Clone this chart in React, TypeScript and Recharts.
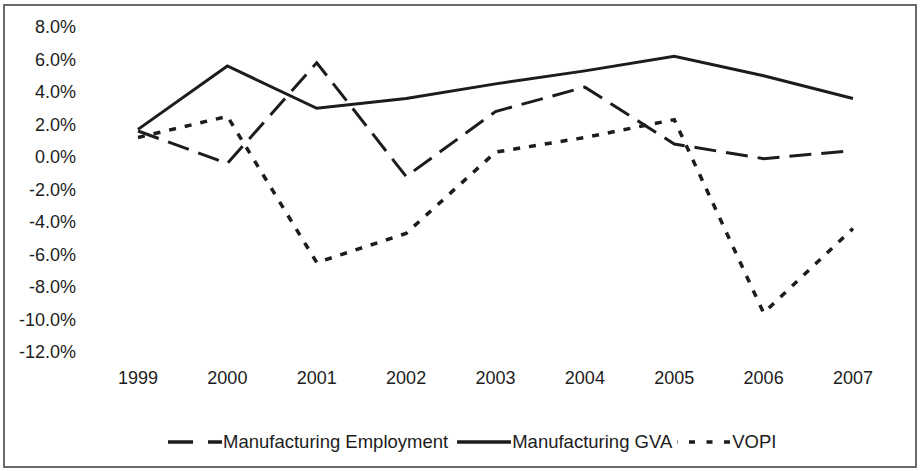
import { Line, LineChart, XAxis, YAxis } from "recharts";

const years = ["1999", "2000", "2001", "2002", "2003", "2004", "2005", "2006", "2007"];
const employment = [1.6, -0.4, 5.8, -1.2, 2.8, 4.3, 0.8, -0.1, 0.4];
const gva = [1.7, 5.6, 3.0, 3.6, 4.5, 5.3, 6.2, 5.0, 3.6];
const vopi = [1.2, 2.5, -6.5, -4.7, 0.3, 1.2, 2.3, -9.6, -4.4];
const yTicks = [-12, -10, -8, -6, -4, -2, 0, 2, 4, 6, 8];

const INK = "#1c1c1c";
const FONT = "'Liberation Sans', Arial, sans-serif";

const series = [
  { key: "employment", name: "Manufacturing Employment", dash: "22 10", icon: "25 15", iconOffset: 0, gapAfter: 9 },
  { key: "gva", name: "Manufacturing GVA", dash: undefined, icon: undefined, iconOffset: 0, gapAfter: 5 },
  { key: "vopi", name: "VOPI", dash: "7 9", icon: "6 11.5", iconOffset: 5.5, gapAfter: 0 },
];

const data = years.map((year, i) => ({
  year,
  employment: employment[i],
  gva: gva[i],
  vopi: vopi[i],
}));

const pct = (v: number) => `${v.toFixed(1)}%`;

function ChartLegend() {
  return (
    <div
      style={{
        position: "absolute",
        left: 168,
        top: 431,
        display: "flex",
        alignItems: "center",
        fontFamily: FONT,
        fontSize: 18.5,
        color: INK,
        whiteSpace: "nowrap",
      }}
    >
      {series.map((s) => (
        <div key={s.key} style={{ display: "flex", alignItems: "center", marginRight: s.gapAfter }}>
          <svg width={54} height={10} style={{ marginRight: 1 }}>
            <line
              x1={0}
              y1={5}
              x2={54}
              y2={5}
              stroke={INK}
              strokeWidth={3.5}
              strokeDasharray={s.icon}
              strokeDashoffset={s.iconOffset}
            />
          </svg>
          <span>{s.name}</span>
        </div>
      ))}
    </div>
  );
}

export default function App() {
  return (
    <div style={{ position: "absolute", left: 0, top: 0, width: 920, height: 471, background: "#fff" }}>
      <div
        style={{
          position: "absolute",
          left: 3,
          top: 4,
          width: 914,
          height: 464,
          border: "2px solid #6a6a6a",
          boxSizing: "border-box",
        }}
      />
      <div style={{ position: "absolute", left: 0, top: 0 }}>
        <LineChart width={920} height={471} data={data} margin={{ top: 27, right: 22, left: 0, bottom: 79 }}>
          <XAxis
            dataKey="year"
            axisLine={false}
            tickLine={false}
            tickMargin={13}
            height={40}
            interval={0}
            padding={{ left: 45, right: 45 }}
            tick={{ fontSize: 18, fill: INK, fontFamily: FONT }}
          />
          <YAxis
            width={93}
            domain={[-12, 8]}
            ticks={yTicks}
            axisLine={false}
            tickLine={false}
            tickMargin={11}
            tickFormatter={pct}
            tick={{ fontSize: 18, fill: INK, fontFamily: FONT }}
          />
          {series.map((s) => (
            <Line
              key={s.key}
              type="linear"
              dataKey={s.key}
              name={s.name}
              stroke={INK}
              strokeWidth={s.key === "vopi" ? 3.5 : 3}
              strokeDasharray={s.dash}
              dot={false}
              activeDot={false}
              isAnimationActive={false}
            />
          ))}
        </LineChart>
      </div>
      <ChartLegend />
    </div>
  );
}
